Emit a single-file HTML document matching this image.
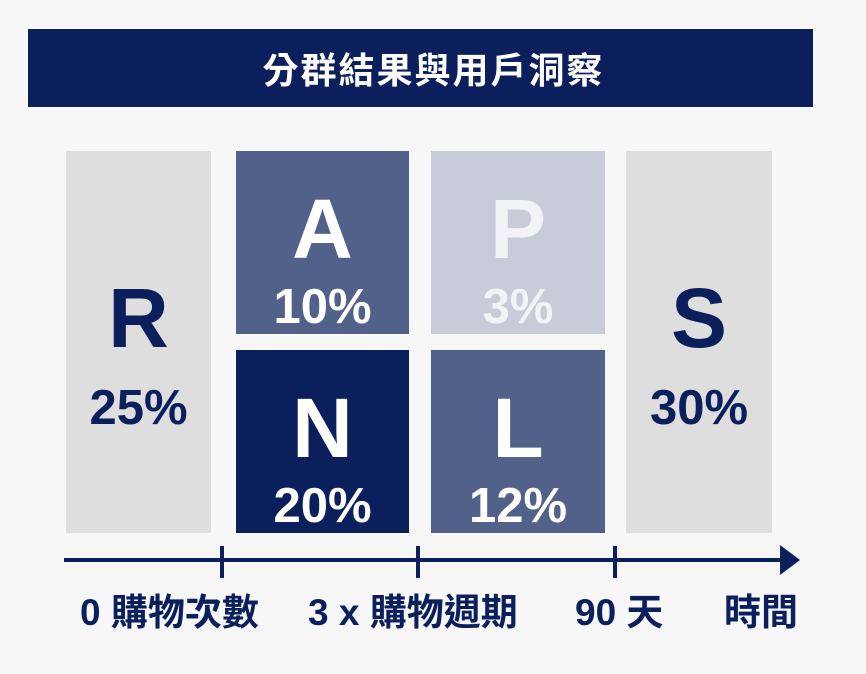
<!DOCTYPE html>
<html><head><meta charset="utf-8"><style>
body{margin:0;width:866px;height:674px;background:#f7f7f7;font-family:"Liberation Sans","Noto Sans CJK TC",sans-serif;position:relative;overflow:hidden}
.abs{position:absolute}
.title{left:28px;top:29px;width:785px;height:78px;background:#0a1f5c;color:#fff;font-size:36px;font-weight:bold;display:flex;align-items:center;justify-content:center;letter-spacing:2px;box-sizing:border-box;padding-left:26px}
.box{position:absolute;text-align:center;font-weight:bold}
.letter{position:absolute;left:0;right:0;font-size:84px;line-height:1}
.pct{position:absolute;left:0;right:0;font-size:49px;line-height:1}
.lab{position:absolute;font-size:37px;font-weight:bold;color:#0a1f5c;white-space:nowrap;line-height:1}
</style></head><body>
<div class="abs title">分群結果與用戶洞察</div>
<div id="boxes"></div>
<svg class="abs" style="left:0;top:0" width="866" height="674">
<line x1="64" y1="560" x2="786" y2="560" stroke="#0a1f5c" stroke-width="4"/>
<polygon points="780,545 800,560 780,575" fill="#0a1f5c"/>
<line x1="222" y1="546" x2="222" y2="578" stroke="#0a1f5c" stroke-width="4"/>
<line x1="418" y1="546" x2="418" y2="578" stroke="#0a1f5c" stroke-width="4"/>
<line x1="615" y1="546" x2="615" y2="578" stroke="#0a1f5c" stroke-width="4"/>
</svg>
<div class="lab" style="left:80px;top:594px">0 購物次數</div>
<div class="lab" style="left:308px;top:594px">3 x 購物週期</div>
<div class="lab" style="left:575px;top:594px">90 天</div>
<div class="lab" style="left:724px;top:594px">時間</div>
<script>
const segments=["R","A","P","N","L","S"];
const percents=[25,10,3,20,12,30];
const layout={
R:[66,151,145,382,"#dedede","#0a1f5c"],
A:[236,151,173,183,"#52618a","#fff"],
P:[431,151,174,183,"#c8ccd8","#f2f3f6"],
N:[236,350,173,183,"#0a1f5c","#fff"],
L:[431,350,174,183,"#52618a","#fff"],
S:[626,151,146,382,"#dedede","#0a1f5c"]};
const c=document.getElementById('boxes');
segments.forEach((s,i)=>{const L=layout[s];
const d=document.createElement('div');d.className='box';


d.style.cssText=`left:${L[0]}px;top:${L[1]}px;width:${L[2]}px;height:${L[3]}px;background:${L[4]}`;
const tall=L[3]>300;
d.innerHTML=`<div class="letter" style="top:${tall?125:36}px;color:${L[5]}">${s}</div><div class="pct" style="top:${tall?233:132}px;color:${L[5]}">${percents[i]}%</div>`;
c.appendChild(d);});
</script>
</body></html>
